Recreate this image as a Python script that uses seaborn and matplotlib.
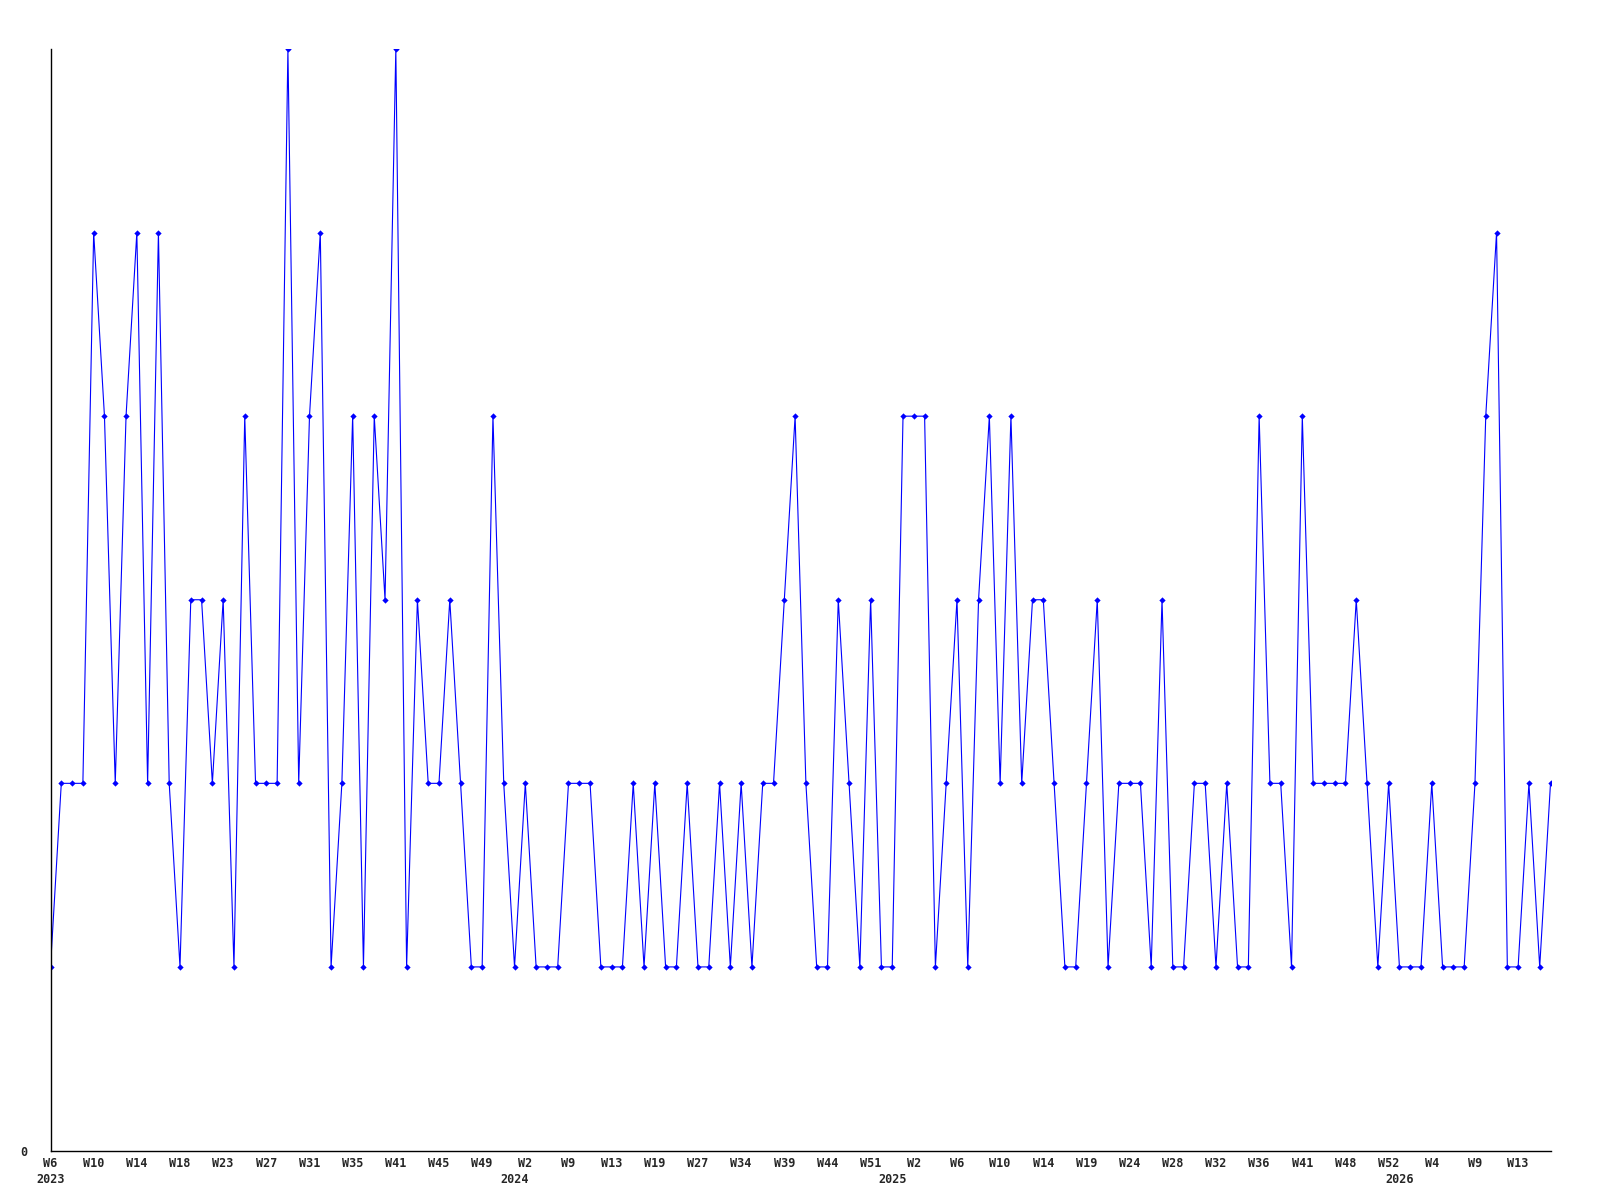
import matplotlib
matplotlib.use("Agg")
import matplotlib.pyplot as plt
import seaborn as sns
import numpy as np
import pandas as pd

# ---- data ----
values = [
    1, 2, 2, 2, 5, 4, 2, 4, 5, 2, 5, 2, 1, 3, 3, 2, 3, 1,
    4, 2, 2, 2, 6, 2, 4, 5, 1, 2, 4, 1, 4, 3, 6, 1, 3, 2,
    2, 3, 2, 1, 1, 4, 2, 1, 2, 1, 1, 1, 2, 2, 2, 1, 1,
    1, 2, 1, 2, 1, 1, 2, 1, 1, 2, 1, 2, 1, 2, 2, 3, 4, 2,
    1, 1, 3, 2, 1, 3, 1, 1, 4, 4, 4, 1, 2, 3, 1, 3, 4, 2,
    4, 2, 3, 3, 2, 1, 1, 2, 3, 1, 2, 2, 2, 1, 3, 1, 1,
    2, 2, 1, 2, 1, 1, 4, 2, 2, 1, 4, 2, 2, 2, 2, 3, 2, 1,
    2, 1, 1, 1, 2, 1, 1, 1, 2, 4, 5, 1, 1, 2, 1, 2,
]
week_labels = ["W6", "W10", "W14", "W18", "W23", "W27", "W31", "W35", "W41",
               "W45", "W49", "W2", "W9", "W13", "W19", "W27", "W34", "W39",
               "W44", "W51", "W2", "W6", "W10", "W14", "W19", "W24", "W28",
               "W32", "W36", "W41", "W48", "W52", "W4", "W9", "W13"]
year_labels = ["2023", "2024", "2025", "2026"]
year_start_index = [0, 43, 78, 125]

df = pd.DataFrame({"idx": np.arange(len(values)), "value": values})

sns.set_theme(style="white")
plt.rcParams["font.family"] = ["DejaVu Sans Mono", "DejaVu Sans"]

fig = plt.figure(figsize=(16, 12), dpi=100)
ax = fig.add_axes([50.5 / 1600, 1 - 1150.5 / 1200, (1550.5 - 50.5) / 1600, (1150.5 - 49) / 1200])

sns.lineplot(data=df, x="idx", y="value", ax=ax, color="#0000ff", linewidth=0.8,
             marker="D", markersize=3.2, markeredgewidth=0, markerfacecolor="#0000ff")

ax.set_xlim(0, len(values) - 1)
ax.set_ylim(0, 6)

ax.xaxis.remove_overlapping_locs = False
ax.set_xticks(np.arange(0, len(values), 4)[:len(week_labels)])
ax.set_xticklabels(week_labels, fontsize=8.5, fontweight="bold")
ax.set_xticks(year_start_index, minor=True)
ax.set_xticklabels(year_labels, minor=True, fontsize=8.5, fontweight="bold")
ax.tick_params(axis="x", which="major", length=0, pad=5)
ax.tick_params(axis="x", which="minor", length=0, pad=16.5)

ax.set_yticks([0])
ax.set_yticklabels(["0"], fontsize=8.5, fontweight="bold")
ax.tick_params(axis="y", length=0, pad=17)

ax.set_xlabel("")
ax.set_ylabel("")
ax.grid(False)
for s in ["top", "right"]:
    ax.spines[s].set_visible(False)
for s in ["left", "bottom"]:
    ax.spines[s].set_color("black")
    ax.spines[s].set_linewidth(1.0)

fig.savefig("out.png", dpi=100, facecolor="white")
